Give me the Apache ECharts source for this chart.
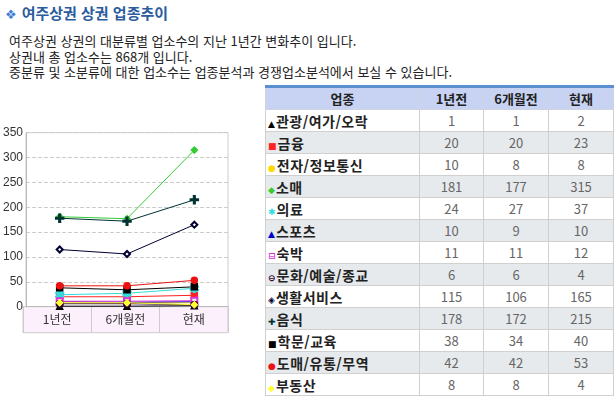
<!DOCTYPE html>
<html lang="ko">
<head>
    <meta charset="UTF-8">
    <title>여주상권 상권 업종추이</title>
    <script src="https://cdn.jsdelivr.net/npm/echarts@6.0.0/dist/echarts.min.js"></script>
    <style>
        body { margin: 0; background: #fff; font-family: "Noto Sans CJK KR", sans-serif; }
        #title { position: absolute; left: 5px; top: 2px; font-size: 15px; font-weight: bold; color: #2b5c9e; }
        #title .icon { color: #3d7fd6; font-family: "DejaVu Sans"; font-size: 13px; margin-right: 5px; }
        #desc { position: absolute; left: 9px; top: 33px; font-size: 13px; line-height: 15.5px; color: #222; }
        #main { position: absolute; left: 0; top: 120px; width: 240px; height: 220px; }
        #tbl { position: absolute; left: 265px; top: 85px; border-collapse: collapse; border-top: 3px solid #5b8fd0; font-size: 13px; }
        #tbl th { background: #c8d3f4; height: 21px; border: 1px solid #cfd5e0; border-top: none; color: #222; padding: 0; }
        #tbl td { height: 21px; border: 1px solid #d0d0d0; color: #666; text-align: center; padding: 0; }
        #tbl td.name { text-align: left; color: #222; font-weight: bold; padding-left: 2px; font-size: 14px; letter-spacing: 0.5px; }
        #tbl tr.alt td { background: #e7eaed; }
        .mk { font-family: "DejaVu Sans"; font-size: 9px; margin-right: 1px; letter-spacing: 0; }
    </style>
</head>
<body>
    <div id="title"><span class="icon">❖</span>여주상권 상권 업종추이</div>
    <div id="desc">
        여주상권 상권의 대분류별 업소수의 지난 1년간 변화추이 입니다.<br>
        상권내 총 업소수는 868개 입니다.<br>
        중분류 및 소분류에 대한 업소수는 업종분석과 경쟁업소분석에서 보실 수 있습니다.
    </div>
    <div id="main"></div>
    <table id="tbl"></table>

    <script>
        // 기간
        var periods = ['1년전', '6개월전', '현재'];
        // 업종
        var types = ['관광/여가/오락', '금융', '전자/정보통신', '소매', '의료', '스포츠', '숙박',
                     '문화/예술/종교', '생활서비스', '음식', '학문/교육', '도매/유통/무역', '부동산'];
        // 업소수 (1년전, 6개월전, 현재)
        var counts = [
            [1, 1, 2],
            [20, 20, 23],
            [10, 8, 8],
            [181, 177, 315],
            [24, 27, 37],
            [10, 9, 10],
            [11, 11, 12],
            [6, 6, 4],
            [115, 106, 165],
            [178, 172, 215],
            [38, 34, 40],
            [42, 42, 53],
            [8, 8, 4]
        ];
        var yTicks = [0, 50, 100, 150, 200, 250, 300, 350];

        var plusPath = 'path://M4,0H6V4H10V6H6V10H4V6H0V4H4Z';
        var starPath = 'path://M4,0H6V3.3L8.6,1.4L9.8,3L6.9,5L9.8,7L8.6,8.6L6,6.7V10H4V6.7L1.4,8.6L0.2,7L3.1,5L0.2,3L1.4,1.4L4,3.3Z';
        var colors = ['#000000', '#ff2222', '#ffd800', '#33cc33', '#33dddd', '#0000cc', '#dd33dd',
                      '#330033', '#000033', '#003333', '#000000', '#ee1111', '#ffff33'];
        var symbols = ['triangle', 'rect', 'circle', 'diamond', starPath, 'triangle', 'emptyRect',
                       'emptyCircle', 'emptyDiamond', plusPath, 'rect', 'circle', 'diamond'];
        var marks = ['▲', '■', '●', '◆', '✱', '▲', '⊟', '⊖', '◈', '✚', '■', '●', '◆'];

        // 표
        var html = '<tr><th style="width:153px">업종</th>';
        periods.forEach(function(p, i) {
            html += '<th style="width:' + (i === 0 ? 63 : 64) + 'px">' + p + '</th>';
        });
        html += '</tr>';
        types.forEach(function(t, i) {
            html += '<tr class="' + (i % 2 ? 'alt' : '') + '"><td class="name"><span class="mk" style="color:' +
                colors[i] + '">' + marks[i] + '</span>' + t + '</td>';
            counts[i].forEach(function(v) { html += '<td>' + v + '</td>'; });
            html += '</tr>';
        });
        document.getElementById('tbl').innerHTML = html;

        // 차트
        var myChart = echarts.init(document.getElementById('main'));
        var series = types.map(function(t, i) {
            return {
                name: t,
                type: 'line',
                data: counts[i],
                symbol: symbols[i],
                symbolSize: (symbols[i] === plusPath || symbols[i] === starPath) ? 8 : 6,
                lineStyle: { width: 1, color: colors[i] },
                itemStyle: { color: colors[i], borderColor: colors[i], borderWidth: 1.5 },
                emphasis: { disabled: true },
                animation: false
            };
        });
        var option = {
            textStyle: { fontFamily: 'Liberation Sans' },
            grid: [
                { left: 23, top: 12.7, width: 205, height: 174, show: true, borderColor: '#cccccc', backgroundColor: '#fff' },
                { left: 23, top: 186.7, width: 205, height: 26, show: true, borderColor: '#cccccc', backgroundColor: '#fcf0fc' }
            ],
            xAxis: [
                {
                    gridIndex: 0, type: 'category', data: periods, boundaryGap: true,
                    axisLabel: { show: false }, axisTick: { show: false },
                    axisLine: { lineStyle: { color: '#bbbbbb' } }
                },
                {
                    gridIndex: 1, type: 'category', data: periods, boundaryGap: true, position: 'top',
                    axisLabel: { inside: true, margin: 7, color: '#333', fontSize: 12, fontFamily: 'Noto Sans CJK KR' },
                    axisTick: { show: false }, axisLine: { show: false },
                    splitLine: { show: true, interval: 0, lineStyle: { color: '#cccccc' } }
                }
            ],
            yAxis: [
                {
                    gridIndex: 0, type: 'value', min: yTicks[0], max: yTicks[yTicks.length - 1], interval: 50,
                    axisLabel: { margin: 3, color: '#333', fontSize: 12 },
                    axisLine: { show: true, lineStyle: { color: '#bbbbbb' } },
                    axisTick: { show: false },
                    splitLine: { lineStyle: { color: '#cccccc', type: 'dashed' } }
                },
                { gridIndex: 1, type: 'value', show: false }
            ],
            series: series
        };
        myChart.setOption(option);
    </script>
</body>
</html>
